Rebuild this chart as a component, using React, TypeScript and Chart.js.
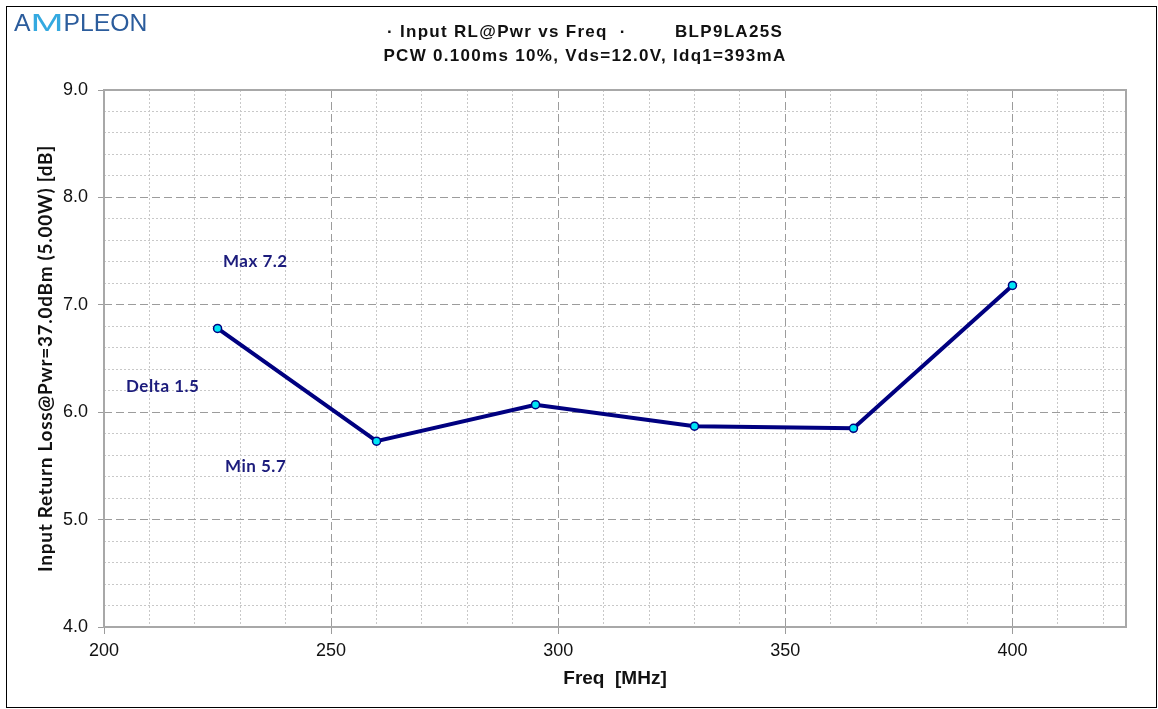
import React, { useEffect, useRef } from 'react';
import { Chart, registerables } from 'chart.js';

Chart.register(...registerables);

// ---- data ----
const freqs = [225, 260, 295, 330, 365, 400];
const returnLoss = [6.78, 5.73, 6.07, 5.87, 5.85, 7.18];
const xMajorTicks = [200, 250, 300, 350, 400];
const yMajorTicks = [4, 5, 6, 7, 8, 9];
const xMin = 200;
const xMax = 425;
const xMinorStep = 10;
const yMin = 4;
const yMax = 9;
const yMinorStep = 0.2;
const titleLine1 = '· Input RL@Pwr vs Freq  ·        BLP9LA25S';
const titleLine2 = 'PCW 0.100ms 10%, Vds=12.0V, Idq1=393mA';
const xTitle = 'Freq  [MHz]';
const yTitle = 'Input Return Loss@Pwr=37.0dBm (5.00W) [dB]';
const noteMax = 'Max 7.2';
const noteDelta = 'Delta 1.5';
const noteMin = 'Min 5.7';
const logoParts = ['A', 'M', 'PLEON'];

const isXMajor = (v: number | undefined) => v !== undefined && xMajorTicks.some((m) => Math.abs(m - v) < 1e-6);
const isYMajor = (v: number | undefined) => v !== undefined && yMajorTicks.some((m) => Math.abs(m - v) < 1e-6);

const decorPlugin = {
  id: 'decor',
  beforeDraw(chart: any) {
    const { ctx, width, height } = chart;
    ctx.save();
    ctx.fillStyle = '#ffffff';
    ctx.fillRect(0, 0, width, height);
    ctx.restore();
  },
  beforeDatasetsDraw(chart: any) {
    const { ctx, chartArea } = chart;
    ctx.save();
    ctx.strokeStyle = '#a8a8a8';
    ctx.lineWidth = 2;
    ctx.strokeRect(chartArea.left, chartArea.top, chartArea.right - chartArea.left, chartArea.bottom - chartArea.top);
    ctx.restore();
  },
  afterDraw(chart: any) {
    const { ctx, chartArea } = chart;
    ctx.save();
    // outer border
    ctx.strokeStyle = '#000000';
    ctx.lineWidth = 1;
    ctx.strokeRect(6.5, 6.5, 1150, 701);

    // logo
    ctx.font = '24px "Liberation Sans", Arial, sans-serif';
    ctx.textBaseline = 'alphabetic';
    ctx.textAlign = 'left';
    const colors = ['#2b5c9c', '#34a9e0', '#2b5c9c'];
    const stretch = [1.03, 1.65, 1.03];
    let lx = 14;
    logoParts.forEach((t, i) => {
      ctx.save();
      ctx.fillStyle = colors[i];
      ctx.translate(lx, 31);
      ctx.scale(stretch[i], 1);
      ctx.fillText(t, 0, 0);
      ctx.restore();
      lx += ctx.measureText(t).width * stretch[i];
    });

    // title
    ctx.fillStyle = '#111111';
    ctx.textAlign = 'center';
    ctx.textBaseline = 'middle';
    ctx.font = 'bold 17px "Liberation Sans", Arial, sans-serif';
    (ctx as any).letterSpacing = '1.3px';
    ctx.fillText(titleLine1, 585, 32);
    ctx.fillText(titleLine2, 585, 56);
    (ctx as any).letterSpacing = '0px';

    // x title
    ctx.font = 'bold 19px "Liberation Sans", Arial, sans-serif';
    ctx.fillText(xTitle, (chartArea.left + chartArea.right) / 2, 679);

    // y title
    ctx.save();
    ctx.translate(46, (chartArea.top + chartArea.bottom) / 2);
    ctx.rotate(-Math.PI / 2);
    ctx.font = 'bold 19px Lato, "Open Sans", sans-serif';
    (ctx as any).letterSpacing = '0.7px';
    ctx.fillText(yTitle, 0, 0);
    (ctx as any).letterSpacing = '0px';
    ctx.restore();

    // annotations
    ctx.fillStyle = '#1c1c7c';
    ctx.textAlign = 'left';
    ctx.font = 'bold 17px Lato, "Open Sans", sans-serif';
    (ctx as any).letterSpacing = '0.5px';
    ctx.fillText(noteMax, 223, 262);
    ctx.fillText(noteDelta, 126, 387);
    ctx.fillText(noteMin, 225, 467);
    (ctx as any).letterSpacing = '0px';
    ctx.restore();
  },
};

export default function App() {
  const ref = useRef<HTMLCanvasElement | null>(null);

  useEffect(() => {
    if (!ref.current) return;
    const chart = new Chart(ref.current, {
      type: 'line',
      data: {
        datasets: [
          {
            data: freqs.map((f, i) => ({ x: f, y: returnLoss[i] })),
            borderColor: '#000080',
            borderWidth: 4,
            pointRadius: 4,
            pointBackgroundColor: '#00e5f5',
            pointBorderColor: '#000080',
            pointBorderWidth: 1.5,
            tension: 0,
          },
        ],
      },
      options: {
        responsive: false,
        animation: false,
        layout: { padding: { top: 90, right: 32, left: 0, bottom: 0 } },
        plugins: { legend: { display: false }, title: { display: false }, tooltip: { enabled: false } },
        scales: {
          x: {
            type: 'linear',
            min: xMin,
            max: xMax,
            afterBuildTicks: (scale: any) => {
              const t = [];
              for (let v = xMin; v < xMax - 1e-6; v += xMinorStep) t.push({ value: v });
              scale.ticks = t;
            },
            afterFit: (scale: any) => {
              scale.height = 82;
            },
            ticks: {
              autoSkip: false,
              maxRotation: 0,
              minRotation: 0,
              padding: 6,
              color: '#111111',
              font: { family: '"Liberation Sans", Arial, sans-serif', size: 18 },
              callback: (v: any) => (isXMajor(Number(v)) ? String(v) : ''),
            },
            grid: {
              color: (c: any) => (isXMajor(c.tick?.value) ? '#9c9c9c' : '#c8c8c8'),
              lineWidth: 1,
              tickLength: 7,
              tickColor: (c: any) => (isXMajor(c.tick?.value) ? '#9c9c9c' : 'rgba(0,0,0,0)'),
            },
            border: {
              display: false,
              dash: (c: any) => (isXMajor(c.tick?.value) ? [8, 4] : [2, 2]),
            },
          },
          y: {
            type: 'linear',
            min: yMin,
            max: yMax,
            afterBuildTicks: (scale: any) => {
              const t = [];
              const n = Math.round((yMax - yMin) / yMinorStep);
              for (let i = 0; i <= n; i++) t.push({ value: Math.round((yMin + i * yMinorStep) * 10) / 10 });
              scale.ticks = t;
            },
            afterFit: (scale: any) => {
              scale.width = 104;
            },
            ticks: {
              autoSkip: false,
              padding: 10,
              color: '#111111',
              font: { family: '"Liberation Sans", Arial, sans-serif', size: 18 },
              callback: (v: any) => (isYMajor(Number(v)) ? Number(v).toFixed(1) : ''),
            },
            grid: {
              color: (c: any) => (isYMajor(c.tick?.value) ? '#9c9c9c' : '#c8c8c8'),
              lineWidth: 1,
              tickLength: 6,
              tickColor: (c: any) => (isYMajor(c.tick?.value) ? '#9c9c9c' : 'rgba(0,0,0,0)'),
            },
            border: {
              display: false,
              dash: (c: any) => (isYMajor(c.tick?.value) ? [8, 4] : [2, 2]),
            },
          },
        },
      },
      plugins: [decorPlugin],
    } as any);
    return () => chart.destroy();
  }, []);

  return (
    <div style={{ position: 'absolute', left: 0, top: 0, width: 1158, height: 709 }}>
      <canvas ref={ref} width={1158} height={709} style={{ display: 'block', width: 1158, height: 709 }} />
    </div>
  );
}
